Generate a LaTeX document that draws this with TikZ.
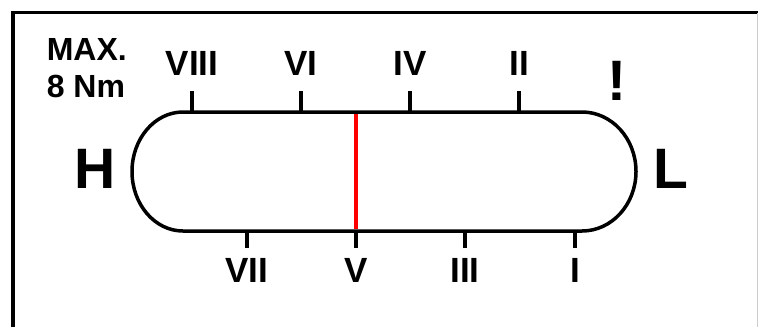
\documentclass[tikz,border=0pt]{standalone}
\usepackage{fontspec}
\setmainfont{Liberation Sans}
\usetikzlibrary{positioning}

\begin{document}
\begin{tikzpicture}[x=1pt, y=-1pt, line width=3.5pt,
    numlabel/.style={font=\fontsize{35}{35}\selectfont\bfseries, anchor=base, inner sep=0pt},
    biglabel/.style={font=\fontsize{57}{57}\selectfont\bfseries, anchor=base, inner sep=0pt},
    notelabel/.style={font=\fontsize{32}{32}\selectfont\bfseries, anchor=base west, inner sep=0pt}]
\useasboundingbox (0,0) rectangle (758,327);
% frame
\draw (13,327) -- (13,12.5) -- (758,12.5);
\draw[gray!40, line width=1pt] (757,13) -- (757,327);
% scale body
\draw (183,112) -- (582,112)
    arc[start angle=270, end angle=450, x radius=54, y radius=59.5]
    -- (183,231)
    arc[start angle=90, end angle=270, x radius=51, y radius=59.5] -- cycle;
\draw[red, line width=4pt] (356,114) -- (356,229);
% ticks
\foreach \x/\t in {192/VIII, 301/VI, 410/IV, 519/II}
    \draw (\x,113) -- (\x,91) node[numlabel] (top\t) at (\x,75) {\t};
\foreach \x/\t in {247/VII, 356/V, 465/III, 575/I}
    \draw (\x,230) -- (\x,248) node[numlabel] (bot\t) at (\x,282) {\t};
% texts
\node[notelabel] (maxtext) at (45,60) {MAX.};
\node[notelabel] (nmtext) at (45,97) {8 Nm};
\node[biglabel] (high) at (95,188) {H};
\node[biglabel] (low) at (671,188) {L};
\node[biglabel] (warn) at (617,100) {!};
\end{tikzpicture}
\end{document}
